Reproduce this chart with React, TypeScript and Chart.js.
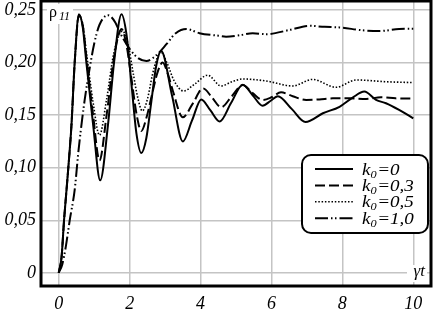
import { useEffect, useRef } from 'react';
import { Chart, registerables } from 'chart.js';

Chart.register(...registerables);

const FONT = '"Liberation Serif", "DejaVu Serif", serif';

// Legend values of k0
const kValues = ['0', '0,3', '0,5', '1,0'];

// Axis ticks
const xTicks = [0, 2, 4, 6, 8, 10];
const yTicks = [0, 0.05, 0.1, 0.15, 0.2, 0.25];

// k0 = 0 (solid)
const t0 = [0, 0.08, 0.15, 0.22, 0.31, 0.36, 0.45, 0.57, 0.68, 0.78, 0.97, 1.17, 1.39, 1.56, 1.77, 1.91, 2.05, 2.19, 2.33, 2.47, 2.61, 2.75, 2.89, 3.2, 3.5, 3.76, 4.02, 4.28, 4.54, 4.86, 5.19, 5.47, 5.75, 5.97, 6.18, 6.57, 6.96, 7.45, 7.92, 8.3, 8.62, 8.95, 9.23, 9.6, 10];
const rho0 = [0, 0.015, 0.05, 0.079, 0.117, 0.141, 0.2, 0.246, 0.233, 0.2, 0.141, 0.088, 0.141, 0.2, 0.246, 0.227, 0.18, 0.133, 0.114, 0.128, 0.1625, 0.197, 0.211, 0.168, 0.125, 0.145, 0.165, 0.1545, 0.144, 0.1615, 0.179, 0.169, 0.159, 0.1635, 0.168, 0.156, 0.1435, 0.1518, 0.158, 0.167, 0.1724, 0.1645, 0.1613, 0.155, 0.147];

// k0 = 0.3 (dashed)
const t03 = [0, 0.08, 0.15, 0.22, 0.31, 0.36, 0.45, 0.57, 0.68, 0.78, 0.97, 1.15, 1.35, 1.56, 1.77, 1.92, 2.05, 2.2, 2.33, 2.47, 2.62, 2.78, 2.93, 3.07, 3.22, 3.5, 3.78, 4.07, 4.32, 4.58, 4.88, 5.19, 5.47, 5.75, 6.0, 6.27, 6.6, 6.98, 7.35, 7.73, 8.2, 8.67, 9.09, 9.5, 10];
const rho03 = [0, 0.015, 0.05, 0.079, 0.117, 0.141, 0.2, 0.245, 0.235, 0.205, 0.15, 0.107, 0.15, 0.205, 0.232, 0.215, 0.185, 0.15, 0.135, 0.147, 0.168, 0.19, 0.2, 0.19, 0.173, 0.148, 0.161, 0.1755, 0.167, 0.1575, 0.168, 0.1787, 0.171, 0.1645, 0.167, 0.1717, 0.168, 0.1645, 0.165, 0.166, 0.166, 0.1654, 0.167, 0.166, 0.1657];

// k0 = 0.5 (dotted)
const t05 = [0, 0.08, 0.15, 0.22, 0.31, 0.36, 0.45, 0.57, 0.68, 0.78, 0.97, 1.15, 1.35, 1.56, 1.8, 1.95, 2.1, 2.22, 2.36, 2.5, 2.64, 2.78, 2.88, 3.05, 3.25, 3.52, 3.85, 4.2, 4.58, 4.9, 5.19, 5.85, 6.6, 7.16, 7.82, 8.39, 9.23, 10];
const rho05 = [0, 0.015, 0.05, 0.079, 0.117, 0.141, 0.2, 0.244, 0.236, 0.21, 0.162, 0.131, 0.165, 0.21, 0.23, 0.218, 0.19, 0.168, 0.154, 0.165, 0.188, 0.205, 0.21, 0.2, 0.183, 0.173, 0.18, 0.188, 0.1778, 0.182, 0.1844, 0.1825, 0.1778, 0.184, 0.1765, 0.1835, 0.1818, 0.181];

// k0 = 1.0 (dash-dot-dot)
const t10 = [0, 0.1, 0.2, 0.31, 0.45, 0.56, 0.73, 0.9, 1.0, 1.15, 1.39, 1.6, 1.72, 2.0, 2.25, 2.47, 2.75, 3.05, 3.3, 3.6, 3.97, 4.5, 4.72, 5.1, 5.47, 5.85, 6.5, 7.07, 7.5, 7.92, 8.57, 9.04, 9.6, 10];
const rho10 = [0, 0.008, 0.025, 0.05, 0.079, 0.117, 0.164, 0.2, 0.218, 0.236, 0.245, 0.238, 0.229, 0.213, 0.204, 0.2015, 0.207, 0.218, 0.228, 0.232, 0.228, 0.2256, 0.2247, 0.226, 0.228, 0.227, 0.231, 0.235, 0.234, 0.2335, 0.2307, 0.23, 0.232, 0.2322];

const pts = (t: number[], r: number[]) => t.map((x, i) => ({ x, y: r[i] }));

const decorPlugin = {
  id: 'decor',
  afterDatasetsDraw(chart: any) {
    const ctx: CanvasRenderingContext2D = chart.ctx;
    const a = chart.chartArea;
    ctx.save();
    ctx.fillStyle = '#000';
    ctx.strokeStyle = '#000';
    ctx.textBaseline = 'alphabetic';

    // rho_11 label
    ctx.fillStyle = '#fff';
    ctx.fillRect(a.left + 6, a.top + 3, 26, 20);
    ctx.fillStyle = '#000';
    ctx.font = `16px ${FONT}`;
    ctx.textAlign = 'left';
    ctx.fillText('ρ', a.left + 8, a.top + 16);
    ctx.font = `italic 12px ${FONT}`;
    ctx.fillText('11', a.left + 18, a.top + 19);

    // gamma t label
    ctx.fillStyle = '#fff';
    ctx.fillRect(a.right - 24, a.bottom - 21, 20, 17);
    ctx.fillStyle = '#000';
    ctx.font = `italic 17px ${FONT}`;
    ctx.textAlign = 'right';
    ctx.fillText('γt', a.right - 6, a.bottom - 10);

    // frame
    ctx.lineWidth = 3;
    ctx.setLineDash([]);
    ctx.strokeRect(a.left, a.top, a.right - a.left, a.bottom - a.top);

    // legend
    const bx = 302, by = 155, bw = 126, bh = 78;
    ctx.beginPath();
    (ctx as any).roundRect(bx, by, bw, bh, 9);
    ctx.fillStyle = '#fff';
    ctx.fill();
    ctx.lineWidth = 2;
    ctx.stroke();
    ctx.fillStyle = '#000';
    ctx.textAlign = 'left';
    chart.data.datasets.forEach((ds: any, i: number) => {
      const y = by + 14 + i * 16.4;
      ctx.beginPath();
      ctx.setLineDash(ds.borderDash || []);
      ctx.lineWidth = ds.borderWidth;
      ctx.moveTo(315, y);
      ctx.lineTo(353, y);
      ctx.stroke();
      ctx.setLineDash([]);
      const base = y + 5.5;
      ctx.save();
      ctx.translate(362, base);
      ctx.scale(1.12, 1);
      let x = 0;
      ctx.font = `italic 17px ${FONT}`;
      ctx.fillText('k', x, 0);
      x += ctx.measureText('k').width;
      ctx.font = `italic 11px ${FONT}`;
      ctx.fillText('0', x, 3);
      x += ctx.measureText('0').width + 0.5;
      ctx.font = `italic 17px ${FONT}`;
      ctx.fillText('=' + kValues[i], x, 0);
      ctx.restore();
    });
    ctx.restore();
  },
};

export default function App() {
  const ref = useRef<HTMLCanvasElement>(null);
  useEffect(() => {
    document.body.style.margin = '0';
    let chart: Chart | null = null;
    let cancelled = false;
    const build = () => {
      if (cancelled || !ref.current) return;
      const tickFont = { family: FONT, size: 18, style: 'italic' as const };
      const gridOpts = { color: '#c4c4c4', lineWidth: 1.5, drawTicks: false };
      chart = new Chart(ref.current, {
        type: 'line',
        data: {
          datasets: [
            { label: 'k0=' + kValues[0], data: pts(t0, rho0), borderColor: '#000', borderWidth: 2, borderDash: [] },
            { label: 'k0=' + kValues[1], data: pts(t03, rho03), borderColor: '#000', borderWidth: 2, borderDash: [10, 4] },
            { label: 'k0=' + kValues[2], data: pts(t05, rho05), borderColor: '#000', borderWidth: 1.6, borderDash: [1.5, 1.8] },
            { label: 'k0=' + kValues[3], data: pts(t10, rho10), borderColor: '#000', borderWidth: 2, borderDash: [13, 3, 1.5, 2.5, 1.5, 3] },
          ].map((d) => ({ ...d, pointRadius: 0, fill: false, cubicInterpolationMode: 'monotone' as const })),
        },
        options: {
          animation: false,
          responsive: false,
          layout: { padding: { top: 1, right: 2, left: 0, bottom: 0 } },
          plugins: { legend: { display: false }, tooltip: { enabled: false } },
          scales: {
            x: {
              type: 'linear',
              min: -0.5,
              max: 10.5,
              afterBuildTicks: (s: any) => { s.ticks = xTicks.map((v) => ({ value: v })); },
              afterFit: (s: any) => { s.height = 23; s.paddingLeft = 0; s.paddingRight = 0; },
              grid: gridOpts,
              border: { display: false },
              ticks: { font: tickFont, color: '#000', padding: 7, maxRotation: 0, autoSkip: false },
            },
            y: {
              type: 'linear',
              min: -0.0125,
              max: 0.2586,
              afterBuildTicks: (s: any) => { s.ticks = yTicks.map((v) => ({ value: v })); },
              afterFit: (s: any) => { s.width = 41; s.paddingTop = 0; s.paddingBottom = 0; },
              grid: gridOpts,
              border: { display: false },
              ticks: {
                font: tickFont,
                color: '#000',
                padding: 5,
                autoSkip: false,
                callback: (v: any) => (Number(v) === 0 ? '0' : Number(v).toFixed(2).replace('.', ',')),
              },
            },
          },
        },
        plugins: [decorPlugin],
      });
    };
    const fonts: any = (document as any).fonts;
    if (fonts && fonts.load) {
      Promise.all([
        fonts.load('italic 18px "Liberation Serif"'),
        fonts.load('18px "Liberation Serif"'),
      ]).then(build, build);
    } else {
      build();
    }
    return () => {
      cancelled = true;
      if (chart) chart.destroy();
    };
  }, []);
  return (
    <div style={{ width: 433, height: 309 }}>
      <canvas ref={ref} width={433} height={309} style={{ display: 'block' }} />
    </div>
  );
}
